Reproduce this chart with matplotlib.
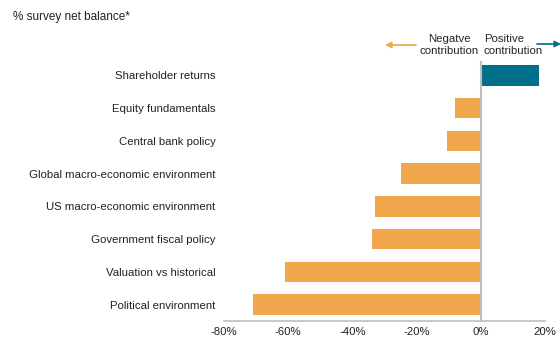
import matplotlib.pyplot as plt

plt.rcParams['font.family'] = ['Liberation Sans', 'DejaVu Sans']

W, H = 560, 339

categories = ['Shareholder returns', 'Equity fundamentals', 'Central bank policy',
              'Global macro-economic environment', 'US macro-economic environment',
              'Government fiscal policy', 'Valuation vs historical', 'Political environment']
net_balance = [18, -8, -10.5, -25, -33, -34, -61, -71]
xticks = [-80, -60, -40, -20, 0, 20]
xtick_labels = ['-80%', '-60%', '-40%', '-20%', '0%', '20%']

ORANGE = '#F0A64A'
TEAL = '#006F89'
GREY = '#BFBFBF'


def fp(x, y):
    # pixel coordinates (from top-left) to figure fraction
    return x / W, 1 - y / H


fig = plt.figure(figsize=(W / 100, H / 100), dpi=100)
ax = fig.add_axes([224 / W, (H - 321) / H, (545 - 224) / W, 262 / H])

ypos = list(range(len(categories)))[::-1]
colors = [TEAL if v > 0 else ORANGE for v in net_balance]
ax.barh(ypos, net_balance, height=0.62, color=colors)

ax.set_xlim(-80, 20)
ax.set_ylim(-0.5, len(categories) - 0.5)
ax.set_yticks(ypos)
ax.set_yticklabels(categories, fontsize=8.2, color='#222222')
ax.set_xticks(xticks)
ax.set_xticklabels(xtick_labels, fontsize=8.2, color='#222222')
ax.tick_params(axis='x', length=0, pad=4)
ax.tick_params(axis='y', length=0, pad=6)

for s in ['top', 'right', 'left']:
    ax.spines[s].set_visible(False)
ax.spines['bottom'].set_color(GREY)
ax.spines['bottom'].set_linewidth(1.2)
ax.axvline(0, color=GREY, lw=1.5, ymin=0, ymax=0.99)

fig.text(*fp(13, 17), '% survey net balance*', fontsize=8.5, va='center', ha='left', color='#222222')
fig.text(*fp(449, 45), 'Negatve\ncontribution', fontsize=8.2, ha='center', va='center',
         linespacing=1.35, color='#222222')
fig.text(*fp(484, 45), 'Positive\ncontribution', fontsize=8.2, ha='left', va='center',
         linespacing=1.35, color='#222222')

ax.annotate('', xy=fp(385, 45), xytext=fp(416, 45), xycoords='figure fraction',
            textcoords='figure fraction',
            arrowprops=dict(arrowstyle='-|>', color=ORANGE, lw=1.2, mutation_scale=9,
                            shrinkA=0, shrinkB=0))
ax.annotate('', xy=fp(561, 44), xytext=fp(537, 44), xycoords='figure fraction',
            textcoords='figure fraction',
            arrowprops=dict(arrowstyle='-|>', color=TEAL, lw=1.2, mutation_scale=9,
                            shrinkA=0, shrinkB=0), annotation_clip=False)

fig.savefig('out.png', dpi=100)
